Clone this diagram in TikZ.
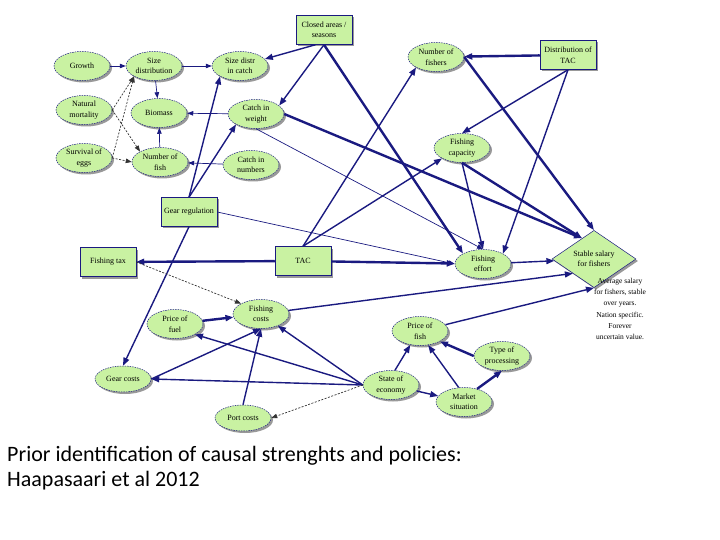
\documentclass[tikz,border=0pt]{standalone}
\usepackage{xcolor}
\usepackage{fontspec}
\setmainfont{Liberation Serif}
\newfontfamily\captionfont{Carlito}
\usepackage{tikz}
\usetikzlibrary{shapes.geometric, arrows.meta, shadows}
\definecolor{nodegreen}{HTML}{C9F2A2}
\definecolor{linknavy}{HTML}{1A1A80}

\tikzset{
    boxshadow/.style={drop shadow={shadow xshift=2pt, shadow yshift=-2pt, fill=black!40, opacity=1}},
    factor/.style={ellipse, fill=nodegreen, draw=linknavy, line width=0.5pt,
          dash pattern=on 1.5pt off 1pt, minimum width=56pt, minimum height=29pt,
          inner sep=0pt, align=center, font=\fontsize{8}{10.5}\selectfont, boxshadow},
    policy/.style={rectangle, fill=nodegreen, draw=linknavy, line width=0.5pt,
          minimum width=56pt, minimum height=29pt, inner sep=1pt, align=center,
          font=\fontsize{8}{10.5}\selectfont, boxshadow},
    goal/.style={diamond, fill=nodegreen, draw=linknavy, line width=0.5pt,
          minimum width=84pt, minimum height=47pt, inner sep=0pt, align=center,
          font=\fontsize{8}{10.5}\selectfont, boxshadow},
    link/.style={draw=linknavy, line width=1.4pt, -{Triangle[length=8pt, width=6pt]}},
    strong/.style={link, line width=2.4pt},
    weak/.style={draw=linknavy, line width=0.7pt, -{Triangle[length=6pt, width=4.5pt]}},
    guess/.style={weak, draw=black!80, dash pattern=on 2pt off 1.5pt}
}

\begin{document}
\begin{tikzpicture}[x=1pt, y=-1pt]
    \useasboundingbox (0,0) rectangle (720,540);

    \node[factor] (growth) at (82,66) {Growth};
    \node[factor] (sizedist) at (154,66) {Size\\distribution};
    \node[factor] (sizecatch) at (240,66) {Size distr\\in catch};
    \node[factor] (natmort) at (84,110) {Natural\\mortality};
    \node[factor] (biomass) at (159,113) {Biomass};
    \node[factor] (catchw) at (256,114) {Catch in\\weight};
    \node[factor] (eggs) at (84,158) {Survival of\\eggs};
    \node[factor] (numfish) at (160,162) {Number of\\fish};
    \node[factor] (catchn) at (251,165) {Catch in\\numbers};
    \node[policy] (gearreg) at (189,212) {Gear regulation};
    \node[policy] (closed) at (324,30) {Closed areas /\\seasons};
    \node[factor] (fishers) at (436,57) {Number of\\fishers};
    \node[policy] (dtac) at (568,55) {Distribution of\\TAC};
    \node[factor] (capacity) at (462,148) {Fishing\\capacity};
    \node[policy] (ftax) at (108,262) {Fishing tax};
    \node[policy] (tac) at (303,261) {TAC};
    \node[factor] (effort) at (483,264) {Fishing\\effort};
    \node[goal] (stable) at (594,259) {Stable salary\\for fishers};
    \node[align=center, font=\fontsize{7.5}{11.3}\selectfont] (salarynote) at (620,309)
        {Average salary\\for fishers, stable\\over years.\\Nation specific.\\Forever\\uncertain value.};
    \node[factor] (pfuel) at (175,324) {Price of\\fuel};
    \node[factor] (fcosts) at (261,314) {Fishing\\costs};
    \node[factor] (pfish) at (420,331) {Price of\\fish};
    \node[factor] (processing) at (502,356) {Type of\\processing};
    \node[factor, minimum height=26pt] (gearcost) at (123,379) {Gear costs};
    \node[factor] (economy) at (391,385) {State of\\economy};
    \node[factor] (market) at (464,402) {Market\\situation};
    \node[factor, minimum height=26pt] (portcost) at (243,418) {Port costs};

    \node[anchor=north west, align=left, inner sep=0pt,
          font=\captionfont\fontsize{22}{25}\selectfont] (caption) at (7,446)
        {Prior identification of causal strenghts and policies:\\Haapasaari et al 2012};

    \draw[weak] (growth) -- (sizedist);
    \draw[weak] (sizedist) -- (sizecatch);
    \draw[weak] (sizedist) -- (biomass);
    \draw[weak] (numfish) -- (biomass);
    \draw[weak] (catchw) -- (biomass);
    \draw[weak] (catchn) -- (numfish);
    \draw[guess] (natmort.east) -- (sizedist.south west);
    \draw[guess] (natmort.east) -- (numfish.north west);
    \draw[guess] (eggs.east) -- (sizedist.south west);
    \draw[guess] (eggs.east) -- (numfish.west);

    \draw[link] (gearreg.north) -- (sizecatch.south west);
    \draw[link] (gearreg.north) -- (catchw.south west);
    \draw[link] (gearreg.south) -- (gearcost.north);
    \draw[weak] (gearreg.east) -- (effort.west);

    \draw[link] (closed.240) -- (sizecatch);
    \draw[link] (closed.south) -- (catchw.20);
    \draw[strong] (closed.south) -- (effort.north west);
    \draw[strong] (catchw.east) -- (stable.120);
    \draw[weak] (catchw.south) -- (effort.north);

    \draw[strong] (dtac) -- (fishers);
    \draw[link] (dtac.south) -- (capacity.north);
    \draw[link] (dtac.south) -- (effort.north east);
    \draw[strong] (fishers.east) -- (stable.north);
    \draw[link] (tac.north) -- (fishers.south west);
    \draw[link] (tac.north) -- (capacity.south west);
    \draw[strong] (tac) -- (ftax);
    \draw[strong] (tac) -- (effort);
    \draw[link] (capacity.south) -- (effort.north);
    \draw[strong] (capacity.south) -- (stable.120);
    \draw[link] (effort) -- (stable);

    \draw[guess] (ftax.east) -- (fcosts.north west);
    \draw[link] (fcosts) -- (stable.south west);
    \draw[link] (pfish) -- (stable.south);
    \draw[strong] (pfuel) -- (fcosts);
    \draw[link] (gearcost.east) -- (fcosts.south);
    \draw[link] (portcost.north) -- (fcosts.south);
    \draw[link] (economy.west) -- (fcosts);
    \draw[link] (economy.west) -- (pfuel.south east);
    \draw[link] (economy.west) -- (gearcost.east);
    \draw[guess] (economy.west) -- (portcost.east);
    \draw[link] (economy.75) -- (pfish.235);
    \draw[link] (economy) -- (market);
    \draw[link] (market.110) -- (pfish.300);
    \draw[strong] (market.45) -- (processing.south);
    \draw[strong] (processing.west) -- (pfish.south east);
\end{tikzpicture}
\end{document}
